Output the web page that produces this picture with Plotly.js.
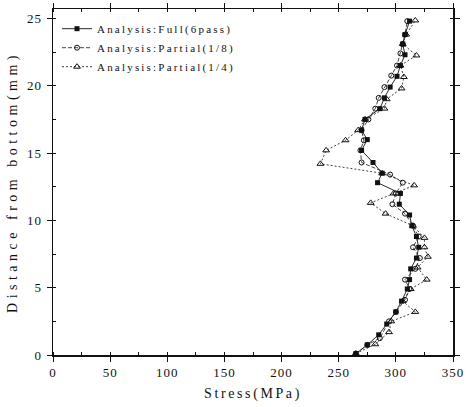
<!DOCTYPE html>
<html><head><meta charset="utf-8">
<script src="https://cdn.plot.ly/plotly-3.0.1.min.js"></script>
<style>html,body{margin:0;padding:0;background:#fff}</style>
</head><body><div id="chart" style="width:468px;height:407px"></div>
<script>
const fullDist = [0.1,0.75,1.5,2.3,3.2,4.0,4.9,5.6,6.4,7.2,8.0,8.8,9.6,10.4,11.2,12.0,12.8,13.5,14.3,15.2,16.0,16.7,17.5,18.3,19.1,19.9,20.7,21.5,22.3,23.1,23.8,24.8];
const fullStress = [265,275,285,292,300,305,310,312,313,318,320,318,314,312,303,304,284,288,280,270,275,270,273,286,290,295,301,304,308,306,308,312];
const p8Dist = [0.1,0.75,1.25,2.5,3.2,4.1,4.9,5.6,6.4,7.2,8.0,8.8,9.6,10.5,11.2,12.0,12.8,13.4,14.3,15.2,15.95,16.7,17.5,18.3,19.1,19.9,20.75,21.5,22.4,23.1,23.8,24.8];
const p8Stress = [265,275,286,294,300,308,312,308,317,321,315,320,315,308,297,300,306,295,270,269,272,270,276,282,285,290,296,301,304,306,308,310];
const p4Dist = [0.1,0.8,1.7,2.5,3.2,4.0,4.9,5.6,6.5,7.3,8.0,8.7,9.6,10.5,11.3,12.0,12.6,13.5,14.2,15.2,15.95,16.7,17.5,18.3,19.0,19.8,20.65,21.5,22.25,23.1,23.8,24.85];
const p4Stress = [265,282,294,296,317,306,313,327,319,328,325,325,315,291,278,298,316,288,234,239,256,267,273,290,292,305,307,304,318,306,309,317];
const names = ['Analysis:Full(6pass)','Analysis:Partial(1/8)','Analysis:Partial(1/4)'];
const xTicks = [0,50,100,150,200,250,300,350];
const yTicks = [0,5,10,15,20,25];

const font = {family:'Liberation Serif, serif', color:'#111'};
const traces = [
 {x:fullStress, y:fullDist, name:names[0], mode:'lines+markers', line:{color:'#111',width:0.9},
  marker:{symbol:'square',size:5,color:'#111'}},
 {x:p8Stress, y:p8Dist, name:names[1], mode:'lines+markers', line:{color:'#111',width:0.8,dash:'4px,2px'},
  marker:{symbol:'circle-open',size:5,color:'#111',line:{width:1}}},
 {x:p4Stress, y:p4Dist, name:names[2], mode:'lines+markers', line:{color:'#111',width:0.8,dash:'2px,2px'},
  marker:{symbol:'triangle-up-open',size:6,color:'#111',line:{width:1}}}
];
const axBase = {showgrid:false, zeroline:false, showline:true, linecolor:'#111', linewidth:1.5,
  mirror:'ticks', ticks:'outside', ticklen:5, tickcolor:'#111', tickfont:{...font,size:13}};
const layout = {
 width:468, height:407, margin:{l:53,r:15,t:9,b:52},
 paper_bgcolor:'#fff', plot_bgcolor:'#fff', font:font, showlegend:true,
 legend:{x:0.01,y:0.985,xanchor:'left',yanchor:'top',bgcolor:'rgba(0,0,0,0)',font:{...font,size:11},
   tracegroupgap:0, itemwidth:30},
 xaxis:{...axBase, range:[0,350], tickvals:xTicks, ticktext:xTicks.map(String),
   minor:{dtick:25, ticks:'inside', ticklen:3, tickcolor:'#111'},
   title:{text:'Stress(MPa)', font:{...font,size:14}, standoff:9}},
 yaxis:{...axBase, range:[0,25.7], tickvals:yTicks, ticktext:yTicks.map(String), ticklabelstandoff:2,
   minor:{dtick:2.5, ticks:'inside', ticklen:3, tickcolor:'#111'},
   title:{text:'Distance from bottom(mm)', font:{...font,size:14}, standoff:8}}
};
const gd = document.getElementById('chart');
Plotly.newPlot(gd, traces, layout, {displayModeBar:false, staticPlot:true}).then(function(){
  gd.querySelectorAll('.xtitle').forEach(function(t){ t.style.letterSpacing='2.6px'; });
  gd.querySelectorAll('.ytitle').forEach(function(t){ t.style.letterSpacing='4.5px'; });
  gd.querySelectorAll('.xtick text, .ytick text').forEach(function(t){ t.style.letterSpacing='1px'; });
  gd.querySelectorAll('.legendtext').forEach(function(t){ t.style.letterSpacing='2.2px'; });
  // let the wider legend text show in full
  gd.querySelectorAll('.legend [clip-path]').forEach(function(el){ el.removeAttribute('clip-path'); });
});
</script></body></html>
